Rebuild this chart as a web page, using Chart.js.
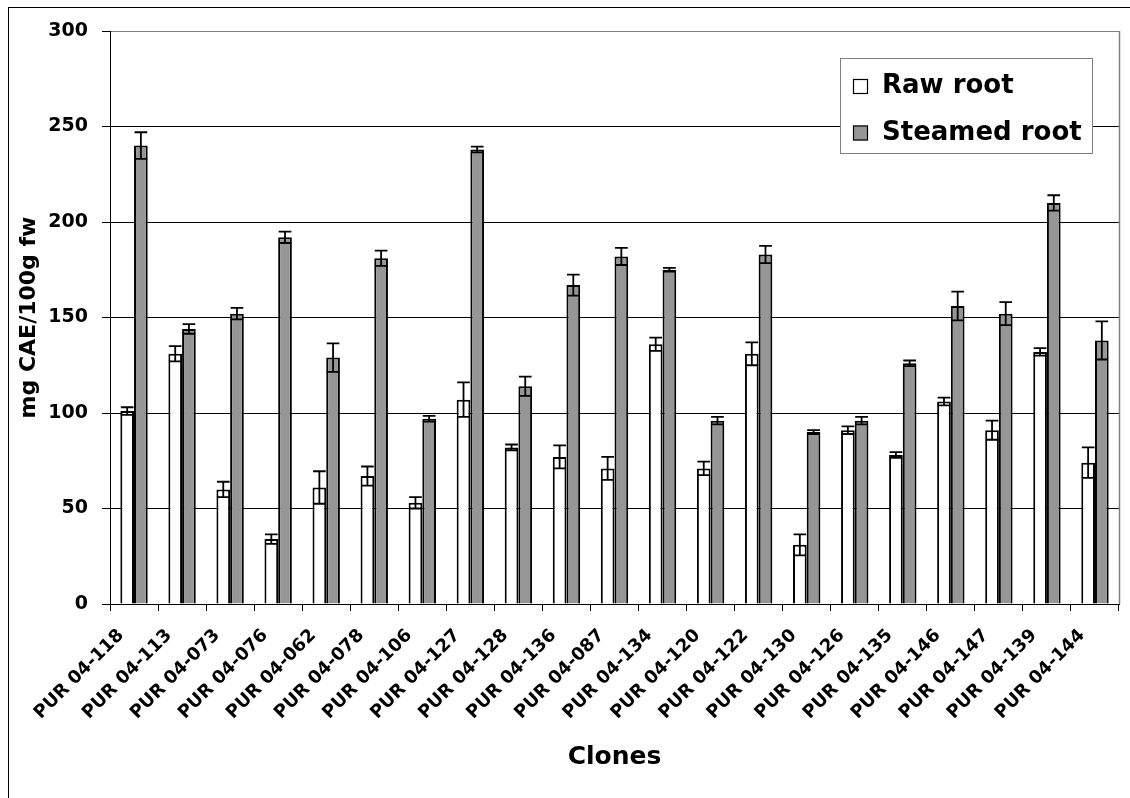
<!DOCTYPE html>
<html>
<head>
<meta charset="utf-8">
<script src="https://cdn.jsdelivr.net/npm/chart.js@4.4.1/dist/chart.umd.min.js"></script>
<style>
  html, body { margin: 0; padding: 0; background: #fff; }
  #wrap { width: 1130px; height: 798px; position: relative; }
  canvas { display: block; }
</style>
</head>
<body>
<div id="wrap"><canvas id="chart" width="1130" height="798"></canvas></div>
<script>
// Clone names along the x axis
const clones = [
  'PUR 04-118', 'PUR 04-113', 'PUR 04-073', 'PUR 04-076', 'PUR 04-062', 'PUR 04-078',
  'PUR 04-106', 'PUR 04-127', 'PUR 04-128', 'PUR 04-136', 'PUR 04-087', 'PUR 04-134',
  'PUR 04-120', 'PUR 04-122', 'PUR 04-130', 'PUR 04-126', 'PUR 04-135', 'PUR 04-146',
  'PUR 04-147', 'PUR 04-139', 'PUR 04-144'
];

// Phenolic content, mg CAE/100g fresh weight
const rawRoot     = [101, 131, 60, 34, 61, 67, 53, 107, 82, 77, 71, 136, 71, 131, 31, 91, 78, 106, 91, 132, 74];
const rawRootErr  = [2, 4, 4, 2.5, 8.5, 5, 3, 9, 1.5, 6, 6, 3.5, 3.5, 6, 5.5, 2, 1.5, 2, 5, 2, 8];
const steamedRoot    = [240, 144, 152, 192, 129, 181, 97, 238, 114, 167, 182, 175, 96, 183, 90, 96, 126, 156, 152, 210, 138];
const steamedRootErr = [7, 2.5, 3, 3, 7.5, 4, 1.5, 1.5, 5, 5.5, 4.5, 1, 2, 4.5, 1, 2, 1.5, 7.5, 6, 4, 10];

// Y axis range and steps
const yMin = 0, yMax = 300, yStep = 50;

const seriesErrors = [rawRootErr, steamedRootErr];
const FONT = '"DejaVu Sans", "Liberation Sans", sans-serif';

// Symmetric error bars with caps, drawn on top of each bar
const errorBarPlugin = {
  id: 'errorBars',
  afterDatasetsDraw(chart) {
    const ctx = chart.ctx;
    const ys = chart.scales.y;
    ctx.save();
    ctx.strokeStyle = '#000';
    ctx.lineWidth = 1.8;
    chart.data.datasets.forEach((ds, i) => {
      const meta = chart.getDatasetMeta(i);
      const errs = seriesErrors[i];
      meta.data.forEach((bar, j) => {
        const v = ds.data[j], e = errs[j];
        const x = bar.x;
        const yt = ys.getPixelForValue(v + e);
        const yb = ys.getPixelForValue(v - e);
        const hw = bar.width / 2 - 0.5;
        ctx.beginPath();
        ctx.moveTo(x, yt); ctx.lineTo(x, yb);
        ctx.moveTo(x - hw, yt); ctx.lineTo(x + hw, yt);
        ctx.moveTo(x - hw, yb); ctx.lineTo(x + hw, yb);
        ctx.stroke();
      });
    });
    ctx.restore();
  }
};

// Grey plot-area edge on the right and the outer chart frame
const framePlugin = {
  id: 'frames',
  beforeDatasetsDraw(chart) {
    const {ctx, chartArea} = chart;
    ctx.save();
    ctx.strokeStyle = '#808080';
    ctx.lineWidth = 1.5;
    const xr = Math.round(chartArea.right) + 0.5;
    ctx.beginPath();
    ctx.moveTo(xr, chartArea.top);
    ctx.lineTo(xr, chartArea.bottom);
    ctx.stroke();
    ctx.restore();
  },
  afterDraw(chart) {
    const ctx = chart.ctx;
    ctx.save();
    ctx.strokeStyle = '#000';
    ctx.lineWidth = 1;
    ctx.strokeRect(8.5, 7.5, 1200, 900);
    ctx.restore();
  }
};

// Boxed legend inside the plot area, top right
const boxLegendPlugin = {
  id: 'boxLegend',
  afterDraw(chart) {
    const ctx = chart.ctx;
    ctx.save();
    ctx.fillStyle = '#fff';
    ctx.fillRect(841, 59, 252, 95);
    ctx.strokeStyle = '#808080';
    ctx.lineWidth = 1;
    ctx.strokeRect(840.5, 58.5, 252, 95);
    ctx.font = 'bold 26px ' + FONT;
    ctx.textBaseline = 'alphabetic';
    ctx.textAlign = 'left';
    chart.data.datasets.forEach((ds, i) => {
      const y = 79 + i * 46.5;
      ctx.fillStyle = ds.backgroundColor;
      ctx.fillRect(853, y, 15, 15);
      ctx.strokeStyle = '#000';
      ctx.lineWidth = 1.2;
      ctx.strokeRect(853.5, y + 0.5, 14, 14);
      ctx.fillStyle = '#000';
      ctx.fillText(ds.label, 882, y + 14);
    });
    ctx.restore();
  }
};

new Chart(document.getElementById('chart'), {
  type: 'bar',
  data: {
    labels: clones,
    datasets: [
      {
        label: 'Raw root',
        data: rawRoot,
        backgroundColor: '#ffffff',
        borderColor: '#000000',
        borderWidth: 2,
        categoryPercentage: 0.57,
        barPercentage: 1.0
      },
      {
        label: 'Steamed root',
        data: steamedRoot,
        backgroundColor: '#969696',
        borderColor: '#000000',
        borderWidth: 2,
        categoryPercentage: 0.57,
        barPercentage: 1.0
      }
    ]
  },
  options: {
    responsive: false,
    animation: false,
    devicePixelRatio: 1,
    layout: { padding: { left: 0, right: 11, top: 31, bottom: 0 } },
    plugins: {
      legend: { display: false },
      tooltip: { enabled: false }
    },
    scales: {
      x: {
        offset: true,
        grid: {
          display: true,
          offset: true,
          drawOnChartArea: false,
          drawTicks: true,
          tickLength: 7,
          color: '#000',
          lineWidth: 1
        },
        border: { display: true, color: '#000', width: 1 },
        ticks: {
          autoSkip: false,
          maxRotation: 45,
          minRotation: 45,
          padding: 14,
          labelOffset: -13,
          color: '#000',
          font: { family: FONT, size: 18, weight: 'bold' }
        },
        title: {
          display: true,
          text: 'Clones',
          color: '#000',
          font: { family: FONT, size: 25, weight: 'bold' },
          padding: { top: 0, bottom: 26 }
        },
        afterFit(scale) { scale.height = 194; }
      },
      y: {
        min: yMin,
        max: yMax,
        grid: {
          display: true,
          drawTicks: true,
          tickLength: 8,
          lineWidth: 1,
          color: (c) => (c.tick && c.tick.value === yMax ? '#808080' : '#000'),
          tickColor: '#000'
        },
        border: { display: true, color: '#000', width: 1 },
        ticks: {
          stepSize: yStep,
          padding: 14,
          color: '#000',
          font: { family: FONT, size: 19, weight: 'bold' }
        },
        title: {
          display: true,
          text: 'mg CAE/100g fw',
          color: '#000',
          font: { family: FONT, size: 22, weight: 'bold' },
          padding: { top: 16, bottom: 0 }
        },
        afterFit(scale) { scale.width = 110; }
      }
    }
  },
  plugins: [framePlugin, errorBarPlugin, boxLegendPlugin]
});
</script>
</body>
</html>
